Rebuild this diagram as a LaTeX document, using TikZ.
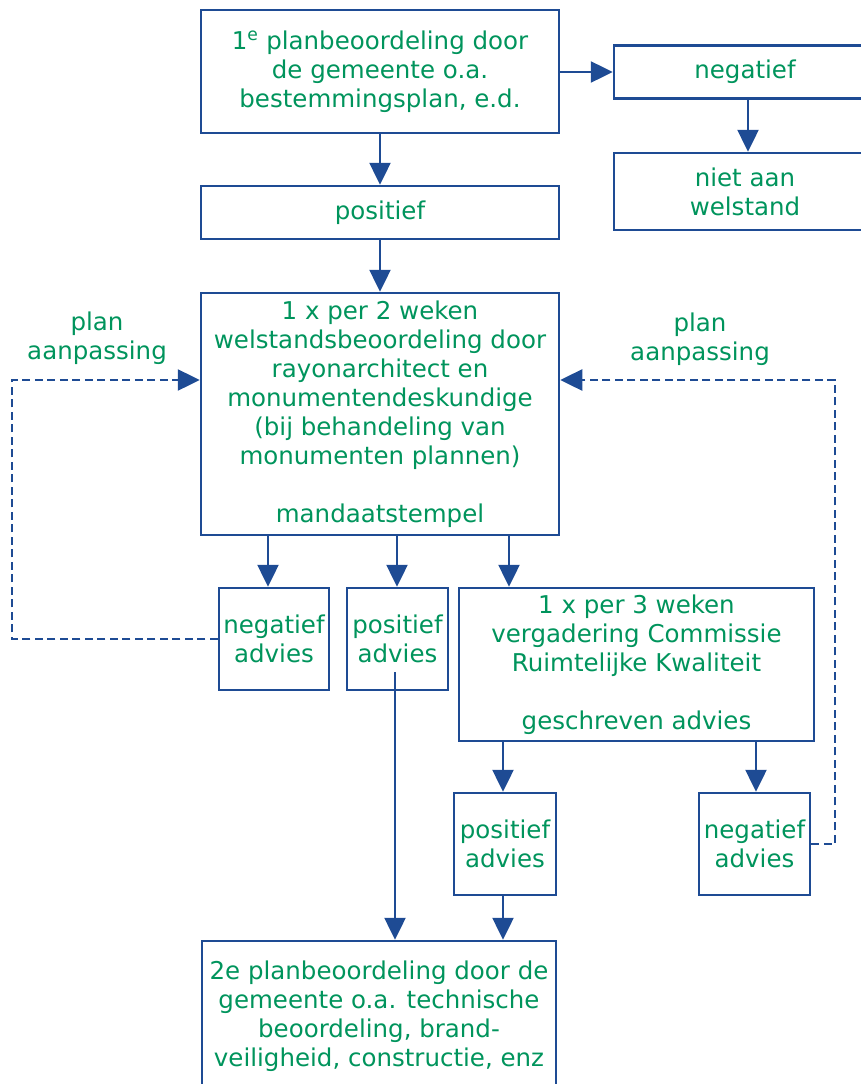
\documentclass[tikz,border=0pt]{standalone}
\usepackage{fontspec}
\setmainfont{DejaVu Sans}
\usetikzlibrary{arrows.meta}
\definecolor{lineblue}{RGB}{30,75,148}
\definecolor{txtgreen}{RGB}{0,148,92}
\begin{document}
\begin{tikzpicture}[x=1pt,y=-1pt,
  box/.style={draw=lineblue,line width=2.5pt,text=txtgreen,align=center,inner sep=0pt,
    font=\fontsize{24.5}{29}\selectfont},
  lbl/.style={text=txtgreen,align=center,inner sep=0pt,font=\fontsize{24.5}{29}\selectfont},
  arr/.style={draw=lineblue,line width=2.5pt,-{Triangle[length=22pt,width=21pt]}},
  dsh/.style={arr,dash pattern=on 8pt off 4.5pt}]
\useasboundingbox (0,0) rectangle (860,1084);
% boxes
\node[box,minimum width=358pt,minimum height=123pt] (b1) at (380,71.5)
  {1\textsuperscript{e} planbeoordeling door\\de gemeente o.a.\\bestemmingsplan, e.d.};
\node[box,minimum width=262pt,minimum height=53pt] (neg) at (745,72) {negatief};
\node[box,minimum width=262pt,minimum height=77pt] (niet) at (745,191.5) {niet aan\\welstand};
\node[box,minimum width=358pt,minimum height=53pt] (pos) at (380,212.5) {positief};
\node[box,minimum width=358pt,minimum height=242pt] (main) at (380,414)
  {1 x per 2 weken\\welstandsbeoordeling door\\rayonarchitect en\\monumentendeskundige\\(bij behandeling van\\monumenten plannen)\\[29pt]mandaatstempel};
\node[box,minimum width=110pt,minimum height=102pt] (na1) at (274,639) {negatief\\advies};
\node[box,minimum width=101pt,minimum height=102pt] (pa1) at (397.5,639) {positief\\advies};
\node[box,minimum width=355pt,minimum height=153pt] (comm) at (636.5,664.5)
  {1 x per 3 weken\\vergadering Commissie\\Ruimtelijke Kwaliteit\\[29pt]geschreven advies};
\node[box,minimum width=102pt,minimum height=102pt] (pa2) at (505,844) {positief\\advies};
\node[box,minimum width=111pt,minimum height=102pt] (na2) at (754.5,844) {negatief\\advies};
\node[box,minimum width=354pt,minimum height=150pt] (twoe) at (379,1016)
  {2e planbeoordeling door de\\gemeente o.a. technische\\beoordeling, brand-\\veiligheid, constructie, enz};
% labels
\node[lbl] (pl1) at (97,338) {plan\\aanpassing};
\node[lbl] (pl2) at (700,339) {plan\\aanpassing};
% helper coordinates
\coordinate (x268) at (268,0);
\coordinate (x397) at (397,0);
\coordinate (x509) at (509,0);
\coordinate (x503) at (503,0);
\coordinate (x756) at (756,0);
\coordinate (x395) at (395,0);
\coordinate (x748) at (748,0);
\coordinate (L) at (12,380);
\coordinate (R) at (835,380);
\coordinate (pstart) at (395,672);
% connectors
\draw[arr] (b1.east |- neg.west) -- (neg.west);
\draw[arr] (neg.south -| x748) -- (niet.north -| x748);
\draw[arr] (b1.south) -- (pos.north);
\draw[arr] (pos.south) -- (main.north);
\draw[arr] (main.south -| x268) -- (na1.north -| x268);
\draw[arr] (main.south -| x397) -- (pa1.north -| x397);
\draw[arr] (main.south -| x509) -- (comm.north -| x509);
\draw[arr] (comm.south -| x503) -- (pa2.north -| x503);
\draw[arr] (comm.south -| x756) -- (na2.north -| x756);
\draw[arr] (pa2.south -| x503) -- (twoe.north -| x503);
\draw[arr] (pstart) -- (twoe.north -| x395);
\draw[dsh] (na1.west) -| (L) -- (main.west |- L);
\draw[dsh] (na2.east) -| (R) -- (main.east |- R);
\end{tikzpicture}
\end{document}
